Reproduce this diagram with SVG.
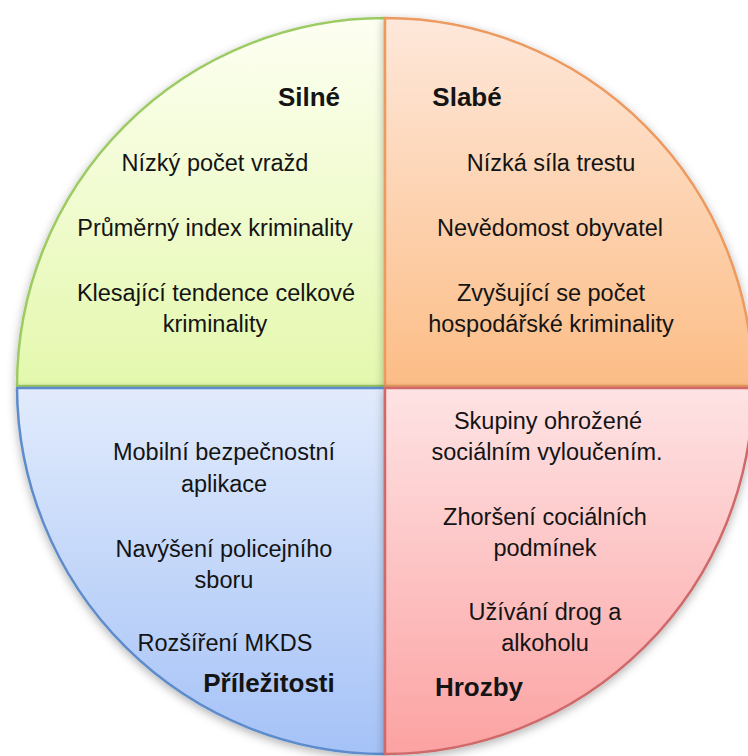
<svg xmlns="http://www.w3.org/2000/svg" width="748" height="756" viewBox="0 0 748 756">
<defs>
<style>
text{font-family:"Liberation Sans",Arial,sans-serif;font-size:23.5px;fill:#141414;text-anchor:middle}
.h{font-weight:bold;font-size:26px}
.q{stroke-width:2.5;stroke-linejoin:round}
</style>
<linearGradient id="gG" x1="0" y1="18" x2="0" y2="386" gradientUnits="userSpaceOnUse"><stop offset="0" stop-color="#fdfff2"/><stop offset="1" stop-color="#e4f8ad"/></linearGradient>
<linearGradient id="gO" x1="0" y1="18" x2="0" y2="386" gradientUnits="userSpaceOnUse"><stop offset="0" stop-color="#fee8db"/><stop offset="1" stop-color="#fcbd86"/></linearGradient>
<linearGradient id="gB" x1="0" y1="388" x2="0" y2="754" gradientUnits="userSpaceOnUse"><stop offset="0" stop-color="#e1ebfc"/><stop offset="1" stop-color="#a5c2f7"/></linearGradient>
<linearGradient id="gR" x1="0" y1="388" x2="0" y2="754" gradientUnits="userSpaceOnUse"><stop offset="0" stop-color="#fee3e4"/><stop offset="1" stop-color="#fca2a2"/></linearGradient>
<filter id="sh" x="-10%" y="-10%" width="120%" height="120%"><feDropShadow dx="0" dy="3" stdDeviation="5" flood-color="#000" flood-opacity="0.3"/></filter>
</defs>
<rect width="748" height="756" fill="#fff"/>
<g id="silne">
<path class="q" d="M385,386 L385,18 A368,368 0 0 0 17,386 Z" fill="url(#gG)" stroke="#9dcb63" filter="url(#sh)"/>
<text class="h" x="309" y="106">Silné</text>
<text x="215" y="171">Nízký počet vražd</text>
<text x="215" y="236">Průměrný index kriminality</text>
<text x="216" y="301">Klesající tendence celkové</text>
<text x="215" y="332">kriminality</text>
</g>
<g id="slabe">
<path class="q" d="M385,386 L753,386 A368,368 0 0 0 385,18 Z" fill="url(#gO)" stroke="#ec9a5e" filter="url(#sh)"/>
<text class="h" x="467" y="106">Slabé</text>
<text x="551" y="171">Nízká síla trestu</text>
<text x="550" y="236">Nevědomost obyvatel</text>
<text x="551" y="301">Zvyšující se počet</text>
<text x="551" y="332">hospodářské kriminality</text>
</g>
<g id="prilezitosti">
<path class="q" d="M385,388 L17,388 A368,368 0 0 0 385,754 Z" fill="url(#gB)" stroke="#5d8bcc" filter="url(#sh)"/>
<text x="224" y="460">Mobilní bezpečnostní</text>
<text x="224" y="492">aplikace</text>
<text x="224" y="557">Navýšení policejního</text>
<text x="224" y="588">sboru</text>
<text x="225" y="651">Rozšíření MKDS</text>
<text class="h" x="269" y="692">Příležitosti</text>
</g>
<g id="hrozby">
<path class="q" d="M385,388 L385,754 A368,368 0 0 0 753,388 Z" fill="url(#gR)" stroke="#cf6a6a" filter="url(#sh)"/>
<text x="548" y="429">Skupiny ohrožené</text>
<text x="547" y="460">sociálním vyloučením.</text>
<text x="545" y="525">Zhoršení cociálních</text>
<text x="545" y="556">podmínek</text>
<text x="545" y="620">Užívání drog a</text>
<text x="545" y="651">alkoholu</text>
<text class="h" x="479" y="696">Hrozby</text>
</g>
<g id="connectors"/>
</svg>
